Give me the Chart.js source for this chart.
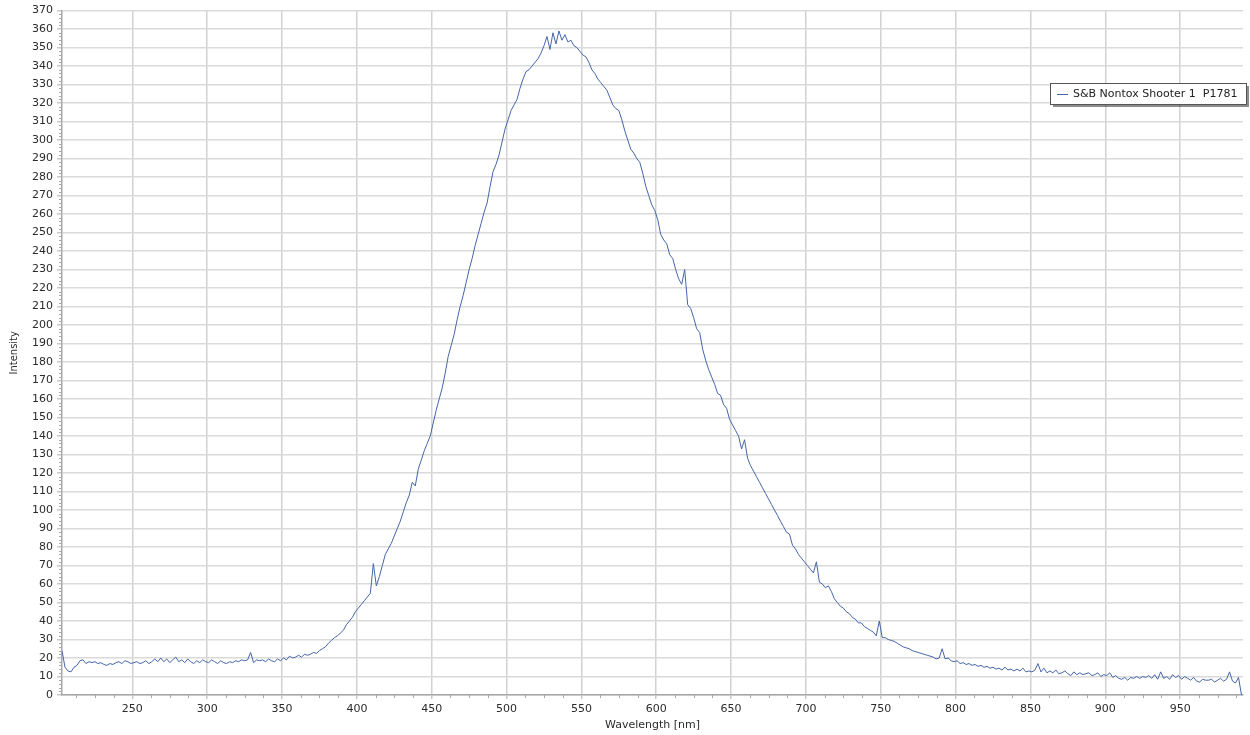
<!DOCTYPE html>
<html>
<head>
<meta charset="utf-8">
<title>S&B Nontox Shooter 1 P1781</title>
<script src="https://cdn.jsdelivr.net/npm/chart.js@4.4.0/dist/chart.umd.min.js"></script>
<style>
    body { margin: 0; background: #fff; }
    #spectrum { display: block; }
</style>
</head>
<body>
<canvas id="spectrum" width="1250" height="735"></canvas>
<script>
// Spectrum sampled every 2 nm, starting at 203 nm
const startNm = 203;
const stepNm = 2;

// Intensity values (10 per row)
const intensity = [
    24, 15, 13, 12.5, 15, 16, 18.5, 19, 17, 18,              // 203
    17.5, 18, 17, 17.5, 16.5, 16, 17, 16.5, 17.5, 18,        // 223
    17, 18.5, 18, 17, 17.5, 18, 17, 17.5, 18.5, 17,          // 243
    18, 19.5, 18, 20, 18, 19.5, 17.5, 19, 20.5, 18,          // 263
    19, 17.5, 19.5, 18, 17, 18.5, 17.5, 19, 18, 17.5,        // 283
    19, 18, 17, 18.5, 17.5, 17, 18, 17.5, 18.5, 18,          // 303
    19, 18.5, 19, 23, 17.5, 19, 18.5, 19, 18, 19.5,          // 323
    18.5, 18, 19.5, 18.5, 20, 19, 21, 20, 20.5, 21.5,        // 343
    20.5, 22, 21.5, 22, 23, 22.5, 24, 25, 26, 28,            // 363
    29.5, 31, 32, 33.5, 35, 38, 40, 42, 45, 47,              // 383
    49, 51, 53, 55, 71, 59, 64, 70, 76, 79,                  // 403
    82, 86, 90, 94, 99, 104, 108, 115, 113, 122,             // 423
    127, 132, 136, 140, 147, 154, 160, 166, 174, 183,        // 443
    189, 195, 203, 210, 216, 223, 230, 236, 243, 249,        // 463
    255, 261, 266, 275, 283, 287, 292, 299, 306, 311,        // 483
    316, 319, 322, 328, 333, 337, 338, 340, 342, 344,        // 503
    347, 351, 356, 349, 358, 352, 359, 354, 357, 353,        // 523
    354, 351, 350, 348, 346, 345, 342, 338, 336, 333,        // 543
    331, 329, 327, 323, 319, 317, 316, 311, 305, 300,        // 563
    295, 293, 290, 288, 282, 275, 270, 265, 262, 257,        // 583
    249, 246, 244, 238, 236, 230, 225, 222, 230, 211,        // 603
    209, 204, 198, 196, 187, 181, 176, 172, 168, 163,        // 623
    162, 157, 155, 149, 146, 143, 140, 133, 138, 128,        // 643
    124, 121, 118, 115, 112, 109, 106, 103, 100, 97,         // 663
    94, 91, 88, 87, 81, 79, 76, 74, 72, 70,                  // 683
    68, 66, 72, 61, 60, 58, 59, 56, 52, 50,                  // 703
    48, 47, 45, 44, 42, 41, 39, 39, 37, 36,                  // 723
    35, 34, 32, 40, 31, 31, 30, 29.5, 29, 28,                // 743
    27, 26, 25.5, 25, 24, 23.5, 23, 22.5, 22, 21.5,          // 763
    21, 20.5, 19.5, 20, 25, 19.5, 20, 18.5, 18, 18.5,        // 783
    17, 17.5, 16.5, 17, 16, 16.5, 15.5, 16, 15, 15.5,        // 803
    14.5, 15, 14, 14.5, 13.5, 15, 13.5, 14, 13, 14,          // 823
    13, 14.5, 12.5, 13, 12.5, 13.5, 17, 12.5, 14.5, 12,      // 843
    13, 12, 13.5, 11.5, 12, 13, 11.5, 10.5, 12.5, 11,        // 863
    12, 11, 11.5, 12, 10.5, 11, 12, 10, 11, 10.5,            // 883
    12, 9.5, 10.5, 9, 8.5, 9.5, 8, 9.5, 9, 10,               // 903
    9, 10, 9.5, 10.5, 9, 11, 8.5, 12.5, 9, 10,               // 923
    8.5, 11, 9.5, 10.5, 8.5, 10, 9, 8, 9.5, 7.5,             // 943
    7, 8.5, 8, 8, 8.5, 7, 8, 9, 7.5, 8.5,                    // 963
    12.5, 7.5, 6.5, 9.5, 0                                   // 983
];

// Axis ticks
const xTicks = [250, 300, 350, 400, 450, 500, 550, 600, 650, 700, 750, 800, 850, 900, 950];
const yTicks = [0, 10, 20, 30, 40, 50, 60, 70, 80, 90, 100, 110, 120, 130, 140, 150, 160, 170, 180,
    190, 200, 210, 220, 230, 240, 250, 260, 270, 280, 290, 300, 310, 320, 330, 340, 350, 360, 370];

const seriesLabel = 'S&B Nontox Shooter 1  P1781';
const lineColor = '#4565a8';

var points = [];
for (var i = 0; i < intensity.length; i++) {
    points.push({ x: startNm + i * stepNm, y: intensity[i] });
}

// small minor ticks on both axes
const minorTicks = {
    id: 'minorTicks',
    afterDraw(chart) {
        const ctx = chart.ctx;
        const xs = chart.scales.x, ys = chart.scales.y;
        ctx.save();
        ctx.strokeStyle = '#a8a8a8';
        ctx.lineWidth = 1;
        ctx.beginPath();
        for (let v = 212.5; v < xs.max; v += 12.5) {
            if (v % 50 === 0) continue;
            const px = Math.round(xs.getPixelForValue(v)) + 0.5;
            ctx.moveTo(px, ys.bottom);
            ctx.lineTo(px, ys.bottom + 3);
        }
        for (let v = 2; v < ys.max; v += 2) {
            if (v % 10 === 0) continue;
            const py = Math.round(ys.getPixelForValue(v)) + 0.5;
            ctx.moveTo(xs.left - 3, py);
            ctx.lineTo(xs.left, py);
        }
        ctx.stroke();
        ctx.restore();
    }
};

// boxed legend inside the plot, top right
const boxLegend = {
    id: 'boxLegend',
    afterDraw(chart) {
        const ctx = chart.ctx;
        const ds = chart.data.datasets[0];
        const left = 1050, top = 83, w = 196, h = 21;
        ctx.save();
        ctx.fillStyle = 'rgba(0,0,0,0.45)';
        ctx.fillRect(left + 3, top + 3, w, h);
        ctx.fillStyle = '#fff';
        ctx.fillRect(left, top, w, h);
        ctx.strokeStyle = '#555';
        ctx.lineWidth = 1;
        ctx.strokeRect(left + 0.5, top + 0.5, w, h);
        ctx.strokeStyle = ds.borderColor;
        ctx.beginPath();
        ctx.moveTo(left + 7, top + 11.5);
        ctx.lineTo(left + 18, top + 11.5);
        ctx.stroke();
        ctx.fillStyle = '#222';
        ctx.font = '11px "DejaVu Sans"';
        ctx.textBaseline = 'middle';
        ctx.fillText(ds.label, left + 23, top + 11);
        ctx.restore();
    }
};

var ctx = document.getElementById('spectrum').getContext('2d');
new Chart(ctx, {
    type: 'line',
    data: {
        datasets: [{
            label: seriesLabel,
            data: points,
            borderColor: lineColor,
            borderWidth: 1,
            pointRadius: 0,
            tension: 0,
            fill: false
        }]
    },
    options: {
        responsive: false,
        animation: false,
        devicePixelRatio: 1,
        layout: { padding: { top: 10, right: 7, left: 0, bottom: 0 } },
        plugins: {
            legend: { display: false },
            tooltip: { enabled: false }
        },
        scales: {
            x: {
                type: 'linear',
                min: 203,
                max: 992,
                afterBuildTicks: s => { s.ticks = xTicks.map(v => ({ value: v })); },
                afterFit: s => { s.height = 40; },
                grid: { color: '#d2d2d2', lineWidth: 1.5, tickLength: 4, tickColor: '#c8c8c8' },
                border: { color: '#a8a8a8', width: 1.5 },
                ticks: { color: '#2b2b2b', font: { family: 'DejaVu Sans', size: 11 }, padding: 4, maxRotation: 0 },
                title: {
                    display: true,
                    text: 'Wavelength [nm]',
                    color: '#2b2b2b',
                    font: { family: 'DejaVu Sans', size: 11 },
                    padding: { top: 0, bottom: 3 }
                }
            },
            y: {
                min: 0,
                max: 370,
                afterBuildTicks: s => { s.ticks = yTicks.map(v => ({ value: v })); },
                afterFit: s => { s.width = 62; },
                grid: { color: '#dadada', lineWidth: 1.5, tickLength: 5, tickColor: '#c8c8c8' },
                border: { color: '#a8a8a8', width: 1.5 },
                ticks: { color: '#2b2b2b', font: { family: 'DejaVu Sans', size: 11 }, padding: 4 },
                title: {
                    display: true,
                    text: 'Intensity',
                    color: '#2b2b2b',
                    font: { family: 'DejaVu Sans', size: 10 },
                    padding: { top: 8, bottom: 0 }
                }
            }
        }
    },
    plugins: [minorTicks, boxLegend]
});
</script>
</body>
</html>
